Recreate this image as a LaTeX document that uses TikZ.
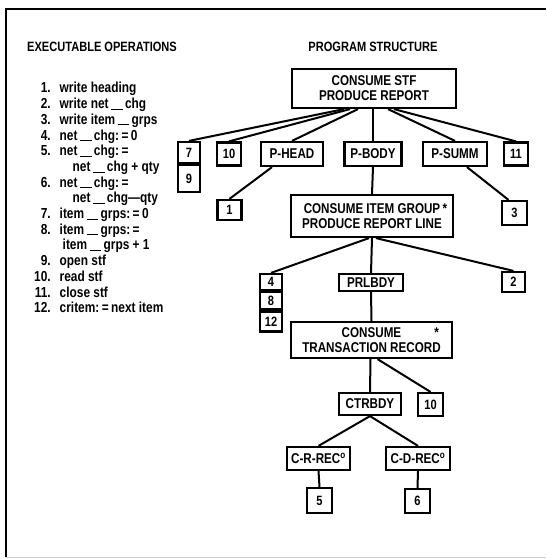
\documentclass[tikz,border=0pt]{standalone}
\usepackage{fontspec}
\setmainfont{Liberation Sans}[FakeStretch=0.82]
\usetikzlibrary{positioning}
\newcommand{\us}{\,\rule[-1pt]{0.8em}{1pt}\,}

\begin{document}
\begin{tikzpicture}[x=1pt, y=-1pt, font=\fontsize{13.5}{15}\selectfont\bfseries,
    comp/.style={rectangle, draw, line width=2.2pt, inner sep=1pt, align=center,
                 font=\fontsize{14.2}{15}\selectfont\bfseries},
    op/.style={rectangle, draw, line width=2.2pt, inner sep=0pt,
               minimum width=24pt, minimum height=23pt},
    link/.style={line width=2pt}]
\useasboundingbox (0,0) rectangle (546,559);
% frame
\draw[line width=2.2pt] (6,557) -- (6,9) -- (546,9);
\draw[gray!40, line width=1pt] (6,557) -- (546,557);
% headings
\node[anchor=west, inner sep=0pt] (ophead) at (27,47) {EXECUTABLE OPERATIONS};
\node[inner sep=0pt] (pshead) at (373,47) {PROGRAM STRUCTURE};
% list of operations
\node[anchor=base west, inner sep=0pt, font=\fontsize{14.5}{15.7}\selectfont\bfseries] (oplist) at (34,93) {%
\begin{tabular}[t]{@{}r@{\hspace{9pt}}l@{}}
1. & write heading\\
2. & write net\us chg\\
3. & write item\us grps\\
4. & net\us chg:\,=\,0\\
5. & net\us chg:\,=\\
   & \hspace{13pt}net\us chg + qty\\
6. & net\us chg:\,=\\
   & \hspace{13pt}net\us chg\textemdash qty\\
7. & item\us grps:\,=\,0\\
8. & item\us grps:\,=\\
   & \hspace{3pt}item\us grps + 1\\
9. & open stf\\
10. & read stf\\
11. & close stf\\
12. & critem:\,=\,next item
\end{tabular}};
% level 1
\node[comp, minimum width=164pt, minimum height=39pt] (stf) at (374,88.5) {CONSUME STF\\PRODUCE REPORT};
% level 2
\node[op, minimum width=22pt, minimum height=21pt] (n7) at (189,152.5) {7};
\node[op, minimum width=22pt, minimum height=27pt, anchor=north] (n9) at (n7.south) {9};
\node[op] (n10) at (229,154) {10};
\node[comp, minimum width=62pt, minimum height=24pt] (phead) at (292,154) {P-HEAD};
\node[comp, minimum width=57pt, minimum height=24pt] (pbody) at (373,154) {P-BODY};
\node[comp, minimum width=64pt, minimum height=24pt] (psumm) at (455,154) {P-SUMM};
\node[op] (n11) at (516,154) {11};
% level 3
\node[op, minimum height=20pt] (n1) at (229.5,210) {1};
\node[op, minimum width=25pt, minimum height=24pt] (n3) at (514.5,213) {3};
\node[comp, minimum width=162pt, minimum height=42pt] (group) at (372,216) {CONSUME ITEM GROUP\rlap{\,*}\\PRODUCE REPORT LINE};
% level 4
\node[op, minimum width=22pt, minimum height=16pt] (n4) at (271,282) {4};
\node[op, minimum width=22pt, minimum height=17pt, anchor=north] (n8) at (n4.south) {8};
\node[op, minimum width=22pt, minimum height=20pt, anchor=north] (n12) at (n8.south) {12};
\node[comp, minimum width=64pt, minimum height=17pt] (prlbdy) at (371,282.5) {PRLBDY};
\node[op, minimum width=23pt, minimum height=20pt] (n2) at (513.5,282) {2};
% level 5
\node[comp, minimum width=161pt, minimum height=36pt] (trans) at (371.5,340) {CONSUME\rlap{\hspace{33pt}*}\\TRANSACTION RECORD};
% level 6
\node[comp, minimum width=62pt, minimum height=22pt] (ctrbdy) at (370,404) {CTRBDY};
\node[op, minimum width=25pt] (n10b) at (430.5,404.5) {10};
\node[comp, minimum width=63pt, minimum height=23pt] (crrec) at (318.5,458.5) {C-R-REC\textsuperscript{o}};
\node[comp, minimum width=64pt, minimum height=23pt] (cdrec) at (418,458.5) {C-D-REC\textsuperscript{o}};
\node[op, minimum width=25pt, minimum height=25pt] (n5) at (319.5,500.5) {5};
\node[op, minimum width=25pt, minimum height=24pt] (n6) at (417.5,501) {6};
% connectors
\draw[link] ([xshift=-30pt]stf.south) -- (n7.north);
\draw[link] ([xshift=-24pt]stf.south) -- (n10.north);
\draw[link] ([xshift=-16pt]stf.south) -- (phead.north);
\draw[link] ([xshift=-1pt]stf.south) -- (pbody.north);
\draw[link] ([xshift=14pt]stf.south) -- (psumm.north);
\draw[link] ([xshift=20pt]stf.south) -- (n11.north);
\draw[link] ([xshift=-20pt]phead.south) -- (n1.north);
\draw[link] ([xshift=12pt]psumm.south) -- ([xshift=-6pt]n3.north);
\draw[link] (pbody.south) -- (group.north);
\draw[link] ([xshift=-3pt]group.south) -- (n4.north);
\draw[link] (group.south) -- (prlbdy.north);
\draw[link] ([xshift=4pt]group.south) -- (n2.north);
\draw[link] (prlbdy.south) -- (trans.north);
\draw[link] ([xshift=-1pt]trans.south) -- (ctrbdy.north);
\draw[link] ([xshift=6pt]trans.south) -- (n10b.north);
\draw[link] (ctrbdy.south) -- (crrec.north);
\draw[link] (ctrbdy.south) -- (cdrec.north);
\draw[link] (crrec.south) -- (n5.north);
\draw[link] (cdrec.south) -- (n6.north);
\end{tikzpicture}
\end{document}
